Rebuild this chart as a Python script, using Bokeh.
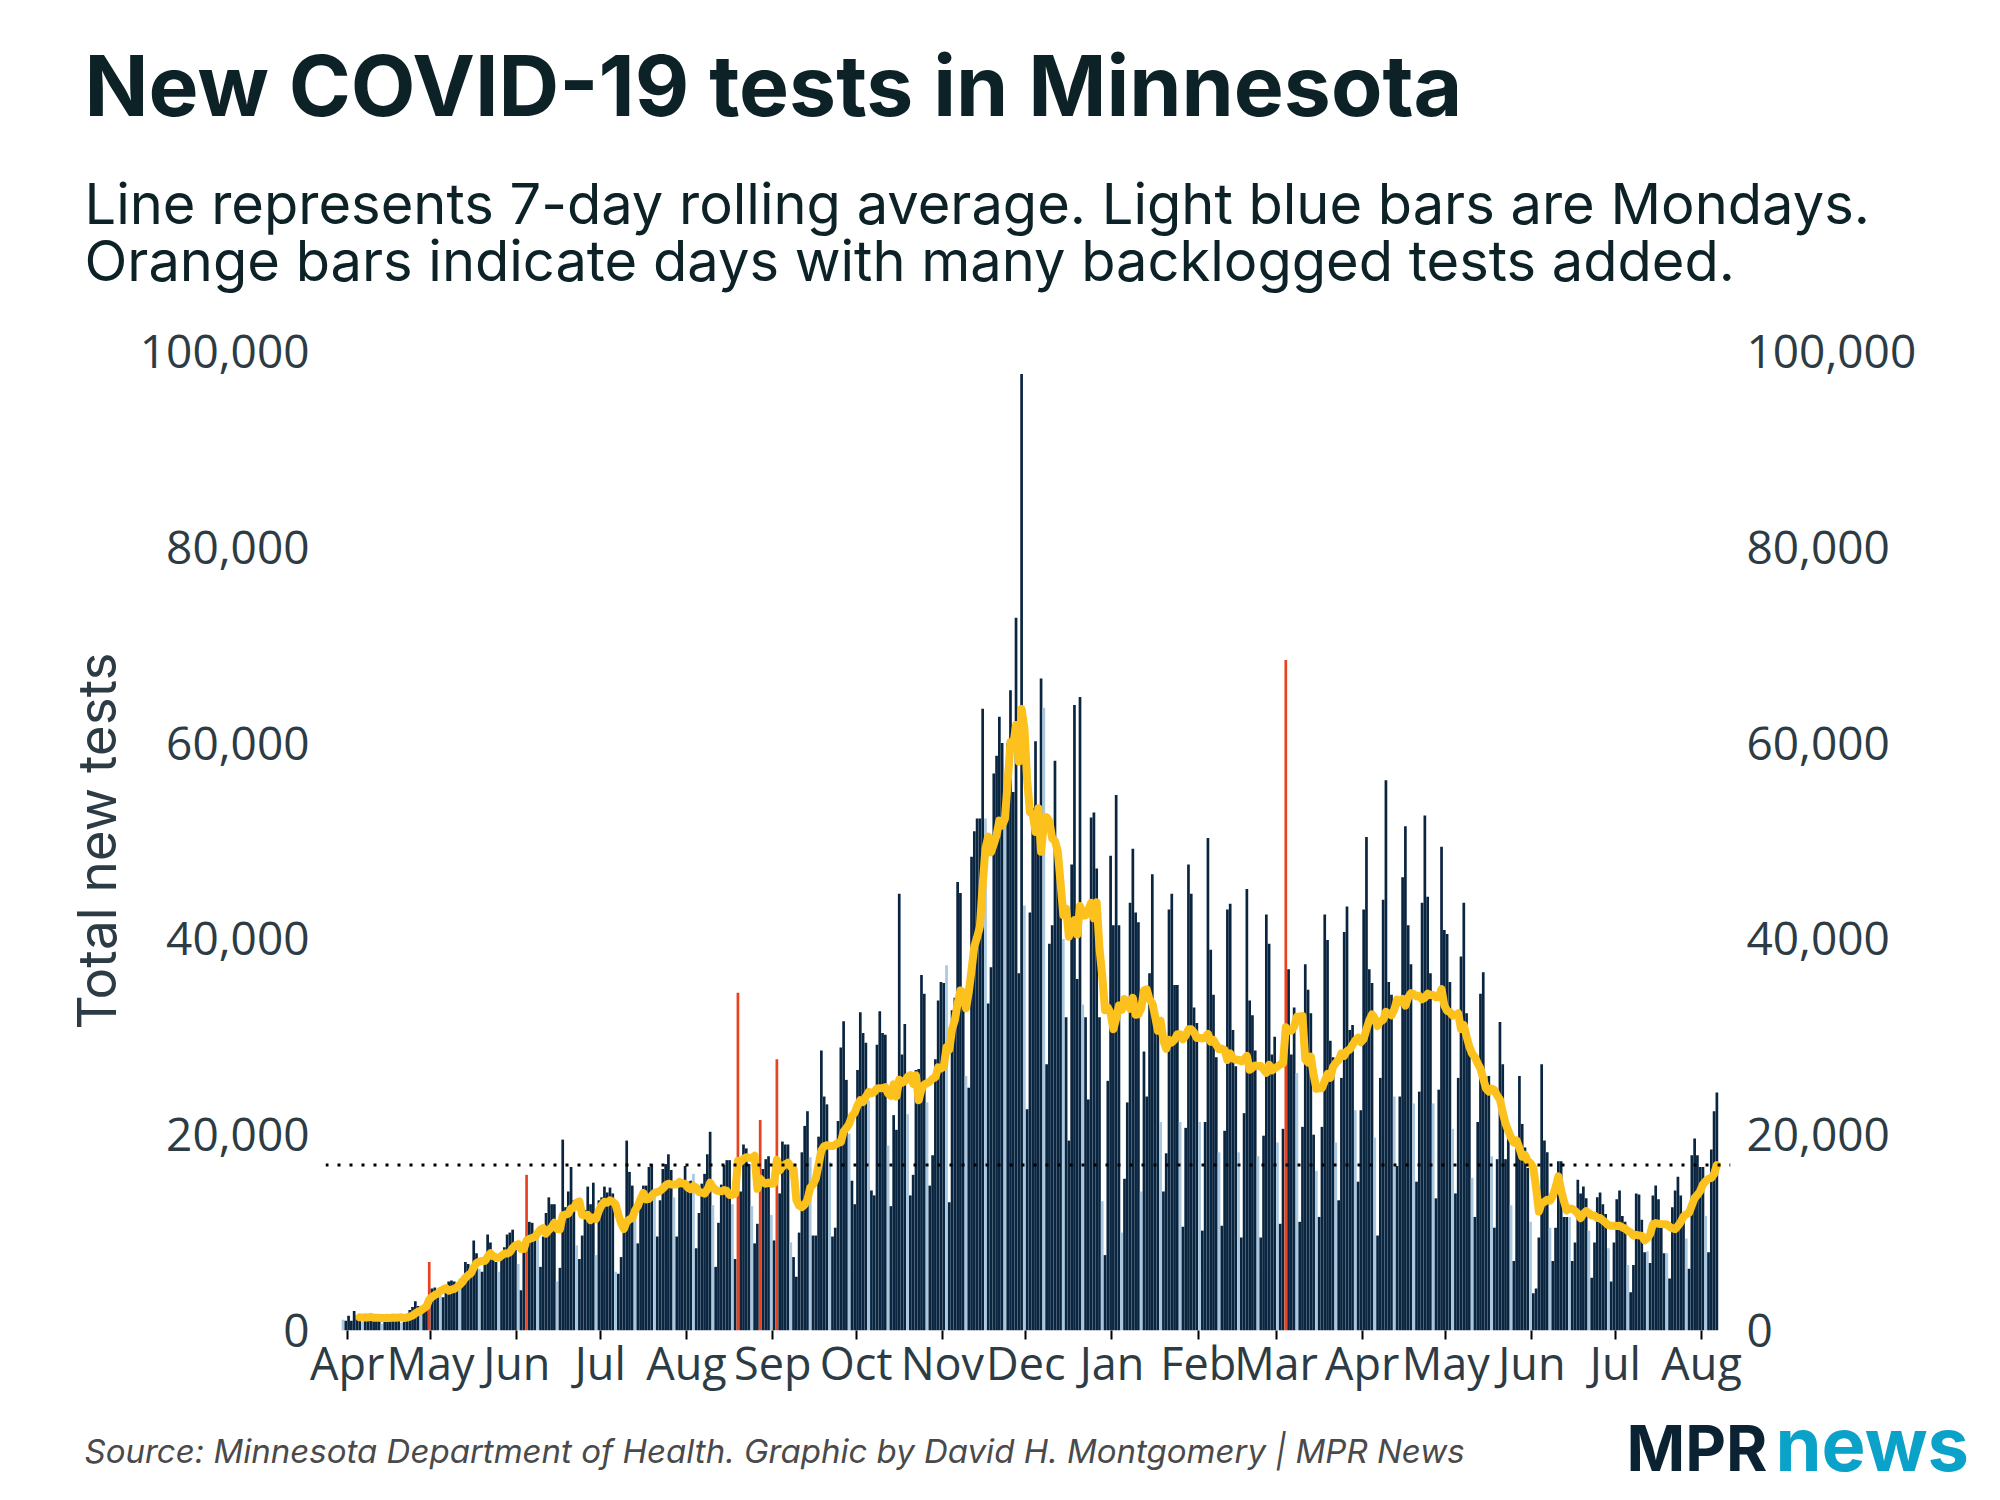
import pandas as pd
from bokeh.plotting import figure
from bokeh.layouts import column
from bokeh.models import (ColumnDataSource, LinearAxis, FixedTicker, NumeralTickFormatter,
                          DatetimeTickFormatter, Span, Range1d)
from bokeh.core.properties import value
from bokeh.embed import file_html
from bokeh.resources import INLINE

# ---------------- data ----------------
start_date = "2020-03-30"   # first bar (a Monday)

# daily new tests, one line per week (Mon..Sun)
tests_2020 = [
    1100, 1000, 1500, 1000, 2000, 1500, 1300,        # Mar 30
    900, 1200, 1400, 1500, 1300, 1600, 1200,         # Apr 6
    700, 1300, 1500, 1400, 1600, 1500, 1300,         # Apr 13
    800, 900, 1700, 2100, 2400, 3000, 2500,          # Apr 20
    1700, 2400, 3100, 7000, 4300, 4400, 3500,        # Apr 27
    3600, 3400, 4200, 5000, 5100, 5000, 4800,        # May 4
    5300, 5500, 7000, 6800, 6500, 9200, 7900,        # May 11
    6300, 6000, 7000, 9800, 9000, 7200, 7000,        # May 18
    6000, 7500, 8500, 9800, 10000, 10300, 8800,      # May 25
    6800, 4100, 8500, 15900, 11100, 11000, 9600,     # Jun 1
    9500, 6500, 9600, 12000, 13600, 12900, 12900,    # Jun 8
    5000, 6400, 19500, 12600, 14200, 16700, 13300,   # Jun 15
    8700, 7300, 9700, 12300, 14700, 12900, 15100,    # Jun 22
    7700, 13300, 13600, 14700, 14100, 14600, 14000,  # Jun 29
    6000, 5800, 7500, 10600, 19400, 16200, 14800,    # Jul 6
    11600, 8900, 12600, 14800, 14800, 16700, 17000,  # Jul 13
    13600, 9600, 13300, 16500, 17000, 18000, 16400,  # Jul 20
    13600, 9600, 15200, 15300, 16800, 15200, 15300,  # Jul 27
    16000, 8400, 12000, 15000, 16000, 18000, 20300,  # Aug 3
    12800, 6500, 11000, 14900, 16900, 17400, 17400,  # Aug 10
    12900, 7300, 34500, 14200, 19000, 18600, 17000,  # Aug 17
    12700, 8900, 10900, 21500, 16500, 17500, 17800,  # Aug 24
    11800, 9200, 27700, 14000, 19300, 19000, 19000,  # Aug 31
    9000, 7500, 5500, 10000, 18200, 20900, 22400,    # Sep 7
    17700, 9700, 9700, 19800, 28600, 23900, 23100,   # Sep 14
    17200, 9600, 10500, 21400, 28900, 31600, 25600,  # Sep 21
    20100, 15300, 12900, 26600, 32500, 30400, 29400, # Sep 28
    23500, 14300, 13800, 29200, 32600, 30400, 30200, # Oct 5
    18900, 12700, 22000, 20500, 44600, 28200, 31300, # Oct 12
    22100, 13800, 15900, 26600, 26700, 36300, 34400, # Oct 19
    23300, 14800, 17900, 27700, 33700, 35600, 35500, # Oct 26
    37300, 13100, 32700, 34000, 45800, 44700, 34000, # Nov 2
    26000, 24800, 48400, 51000, 52300, 52300, 63500, # Nov 9
    52300, 33400, 37100, 56900, 58700, 62700, 60000, # Nov 16
    57000, 60000, 65400, 55000, 72800, 36500, 97700, # Nov 23
    43400, 22600, 42700, 53400, 60200, 53400, 66600, # Nov 30
    63600, 27200, 39500, 41400, 58200, 46300, 44300, # Dec 7
    40000, 32000, 19400, 47600, 63900, 35900, 64700, # Dec 14
    33300, 32000, 23600, 52400, 52900, 47200, 32000, # Dec 21
    13200, 7700, 25500, 48500,                       # Dec 28-31
]

tests_2021 = [
    41400, 54700, 41400,                             # Jan 1-3
    10000, 15500, 23300, 43700, 49200, 42700, 41700, # Jan 4
    14200, 28500, 23900, 36500, 46600, 33300, 31400, # Jan 11
    21300, 14200, 18100, 43000, 44600, 35300, 35300, # Jan 18
    21300, 10600, 20700, 47600, 44600, 33000, 31400, # Jan 25
    21300, 10200, 21300, 50300, 38900, 34300, 27900, # Feb 1
    18200, 10700, 20400, 43000, 43600, 30700, 27000, # Feb 8
    18200, 9500, 22200, 45100, 33700, 32200, 28600,  # Feb 15
    17800, 9500, 19900, 42500, 39500, 28200, 30000,  # Feb 22
    19200, 10900, 20600, 68500, 36900, 28200, 33000, # Mar 1
    26300, 11100, 20800, 37400, 34800, 32400, 20000, # Mar 8
    16300, 11600, 20800, 42500, 39900, 29600, 27900, # Mar 15
    19200, 13300, 25800, 40700, 43300, 30700, 31200, # Mar 22
    22500, 15200, 22500, 43000, 50400, 36900, 35500, # Mar 29
    19700, 9700, 25800, 44000, 56200, 35600, 34300,  # Apr 5
    23900, 16800, 23900, 46300, 51500, 41400, 37400, # Apr 12
    23200, 15200, 24400, 43700, 52600, 44300, 36500, # Apr 19
    23200, 13500, 24600, 49400, 40900, 40500, 35600, # Apr 26
    20600, 14000, 25800, 38200, 43700, 32400, 28200, # May 3
    15600, 11600, 21300, 34400, 36600, 25300, 26000, # May 10
    17800, 10500, 17500, 31500, 27200, 17500, 20800, # May 17
    12800, 7100, 19000, 26000, 21100, 18700, 16600,  # May 24
    11100, 3800, 4300, 9500, 27200, 19400, 18200,    # May 31
    10500, 7100, 10500, 17300, 17300, 11600, 11600,  # Jun 7
    11600, 7100, 9000, 15400, 14000, 14700, 13500,   # Jun 14
    10200, 5400, 9000, 13600, 14100, 12900, 11900,   # Jun 21
    8400, 5000, 9000, 13400, 14300, 11700, 11100,    # Jun 28
    6700, 3900, 6700, 14000, 13900, 11300, 8000,     # Jul 5
    8100, 6900, 13800, 14800, 13400, 11100, 7900,    # Jul 12
    7900, 5300, 12600, 14300, 15700, 13800, 12000,   # Jul 19
    9400, 6300, 17900, 19600, 17900, 16700, 16700,   # Jul 26
    11700, 8000, 18500, 22400, 24300,                # Aug 2-6
]

backlog_days = ["2020-04-30", "2020-06-04", "2020-08-19",
                "2020-08-27", "2020-09-02", "2021-03-04"]

y_ticks = [0, 20000, 40000, 60000, 80000, 100000]
month_starts = pd.date_range("2020-04-01", "2021-08-01", freq="MS")

title_text = "New COVID-19 tests in Minnesota"
subtitle_1 = "Line represents 7-day rolling average. Light blue bars are Mondays."
subtitle_2 = "Orange bars indicate days with many backlogged tests added."
y_title = "Total new tests"
source_text = "Source: Minnesota Department of Health. Graphic by David H. Montgomery | MPR News"

# ---------------- derived ----------------
tests = tests_2020 + tests_2021
assert len(tests_2020) == 277 and len(tests_2021) == 218
dates = pd.date_range(start_date, periods=len(tests), freq="D")
centers = dates + pd.Timedelta(hours=12)
avg = pd.Series(tests).rolling(7).mean()

DARK = "#0a2540"
LIGHT = "#a9c8e0"
ORANGE = "#e8431f"
YELLOW = "#fcc11c"
TEXT_DARK = "#0d2226"
TEXT_AX = "#2d3c44"

colors = []
for dt in dates:
    if dt.strftime("%Y-%m-%d") in backlog_days:
        colors.append(ORANGE)
    elif dt.weekday() == 0:
        colors.append(LIGHT)
    else:
        colors.append(DARK)

bars = ColumnDataSource(dict(x=centers, top=tests, color=colors))
line_src = ColumnDataSource(dict(x=centers[6:], y=avg[6:].tolist()))

# ---------------- layout geometry (page pixels) ----------------
W = 1984
HEAD_H = 300            # header band: page y 0..300
MAIN_H = 1095           # chart band:  page y 300..1395
FOOT_H = 100            # footer band: page y 1395..1495
FRAME_L, FRAME_R, FRAME_T, FRAME_B = 325, 1730, 351, 1330
BASE_SHIFT = 0.37       # text-glyph baseline correction (fraction of font size)


def text_panel(height):
    f = figure(width=W, height=height, x_range=Range1d(0, W), y_range=Range1d(height, 0),
               title=None, output_backend="svg", toolbar_location=None,
               x_axis_type=None, y_axis_type=None,
               min_border=0, min_border_left=0, min_border_right=0,
               min_border_top=0, min_border_bottom=0)
    f.frame_align = False
    f.outline_line_color = None
    f.xgrid.visible = False
    f.ygrid.visible = False
    f.background_fill_color = "white"
    f.border_fill_color = "white"
    return f


def put(f, txt, x, y, size, color, font="Inter", style="normal"):
    y_adj = y - BASE_SHIFT * size
    f.text(x=[x], y=[y_adj], text=[txt], text_font=value(font),
           text_font_size=f"{size}px", text_color=color, text_font_style=style,
           text_align="left", text_baseline="alphabetic")


# header
head = text_panel(HEAD_H)
put(head, title_text, 84, 116, 84, TEXT_DARK, style="bold")
put(head, subtitle_1, 84, 224, 56, TEXT_DARK)
put(head, subtitle_2, 84, 281, 56, TEXT_DARK)

# main chart
x0 = dates[0] - pd.Timedelta(days=5.8)
x1 = dates[0] + pd.Timedelta(days=499.4)

p = figure(width=W, height=MAIN_H, x_axis_type="datetime", title=None,
           x_range=Range1d(x0, x1), y_range=Range1d(0, 100000),
           output_backend="svg", toolbar_location=None,
           min_border_left=FRAME_L, min_border_right=W - FRAME_R,
           min_border_top=FRAME_T - HEAD_H,
           min_border_bottom=HEAD_H + MAIN_H - FRAME_B)
p.frame_align = False
p.outline_line_color = None
p.xgrid.visible = False
p.ygrid.visible = False
p.background_fill_color = "white"
p.border_fill_color = "white"

DAY_MS = 86400000
p.vbar(x="x", top="top", width=0.97 * DAY_MS, fill_color="color",
       line_color=None, source=bars)

cur = avg.iloc[-1]
p.add_layout(Span(location=cur, dimension="width", line_color="black",
                  line_width=3, line_dash="3 9"))

p.line(x="x", y="y", source=line_src, line_color=YELLOW, line_width=8,
       line_join="round", line_cap="round")

xa = p.xaxis[0]
xa.ticker = FixedTicker(ticks=[int(t.value // 10**6) for t in month_starts])
fmt = "%b"
xa.formatter = DatetimeTickFormatter(milliseconds=fmt, seconds=fmt, minsec=fmt,
                                     minutes=fmt, hourmin=fmt, hours=fmt,
                                     days=fmt, months=fmt, years=fmt)
xa.axis_line_color = None
xa.major_tick_line_color = "black"
xa.major_tick_line_width = 2
xa.major_tick_out = 9
xa.major_tick_in = 0
xa.minor_tick_line_color = None
xa.major_label_standoff = -8
xa.major_label_text_font = "Open Sans"
xa.major_label_text_font_size = "45px"
xa.major_label_text_color = TEXT_AX

ya = p.yaxis[0]
ya_r = LinearAxis()
p.add_layout(ya_r, "right")
for ax in (ya, ya_r):
    ax.ticker = FixedTicker(ticks=y_ticks)
    ax.formatter = NumeralTickFormatter(format="0,0")
    ax.axis_line_color = None
    ax.major_tick_line_color = None
    ax.minor_tick_line_color = None
    ax.major_tick_out = 0
    ax.major_tick_in = 0
    ax.major_label_standoff = 16
    ax.major_label_text_font = "Open Sans"
    ax.major_label_text_font_size = "46px"
    ax.major_label_text_color = TEXT_AX

ya.axis_label = y_title
ya.axis_label_text_font = "Inter"
ya.axis_label_text_font_style = "normal"
ya.axis_label_text_font_size = "53px"
ya.axis_label_text_color = TEXT_AX
ya.axis_label_standoff = 8

# footer
foot = text_panel(FOOT_H)
fy = HEAD_H + MAIN_H
put(foot, source_text, 84, 1463 - fy, 33, "#4a4a4a", style="italic")
put(foot, "MPR", 1626, 1471 - fy, 63, "#0b2233", style="bold")
put(foot, "news", 1775, 1471 - fy, 74, "#0aa2c9", style="bold")

layout = column(head, p, foot, spacing=0)
open("out.html", "w").write(file_html(layout, INLINE))
